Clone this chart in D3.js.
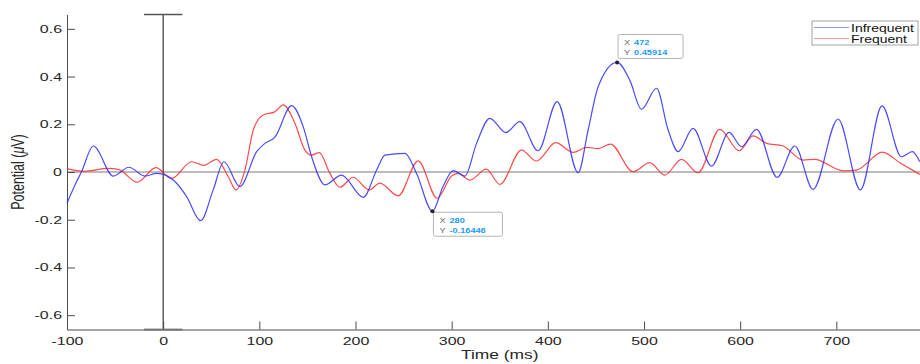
<!DOCTYPE html>
<html>
<head>
<meta charset="utf-8">
<script src="https://cdn.jsdelivr.net/npm/d3@7"></script>
<style>
  body { margin: 0; background: #fff; }
  text { font-family: "Liberation Sans", Arial, sans-serif; }
</style>
</head>
<body>
<div id="my_chart"></div>
<script>
// ERP waveforms (time in ms, potential in uV)
const infreqTime = [-100, -90, -85, -72.6, -51.9, -35.6, -19, -6.8, 0, 14, 24.4, 39, 52, 63.2, 79.8, 97.2, 105.8, 116,
    133.6, 145.6, 154.4, 168.2, 185.5, 208, 222, 230.6, 251.4, 263.5, 280, 291, 301.6, 313.7, 325.9, 339.7, 356.3,
    370.9, 389.9, 409.7, 431.5, 441.9, 452.3, 472, 485.2, 497.4, 513, 525.1, 535.5, 551, 570.2, 588.5, 601.4, 617,
    638.4, 656.8, 675.8, 701.8, 725, 747.5, 767.7, 779, 786.7];
const infreqVal = [-0.131, -0.04, 0.0, 0.109, -0.017, 0.02, -0.017, -0.006, -0.01, -0.047, -0.103, -0.204, -0.075, 0.043,
    -0.061, 0.085, 0.12, 0.145, 0.278, 0.19, 0.064, -0.054, -0.013, -0.106, 0.008, 0.071, 0.078, -0.006, -0.164,
    -0.061, 0.006, -0.017, 0.12, 0.225, 0.165, 0.211, 0.089, 0.295, -0.003, 0.176, 0.357, 0.459, 0.385, 0.263,
    0.351, 0.176, 0.085, 0.183, 0.025, 0.166, 0.106, 0.179, -0.022, 0.109, -0.073, 0.222, -0.075, 0.277, 0.064,
    0.085, 0.043];

const freqTime = [-100, -82, -57, -46, -27, -7.5, 8.8, 29.6, 42.4, 55.6, 67.7, 75.7, 85, 93.7, 104, 116, 124.9, 137,
    147.4, 154.4, 162.3, 173.4, 183.8, 197.6, 214.3, 225.4, 244.4, 265.2, 284.9, 299.9, 306.8, 319, 336, 350.1,
    372.6, 388.2, 408.3, 426.3, 440.2, 452.3, 465.2, 488.7, 506, 521.6, 539, 556.2, 578.8, 598.9, 613.4, 627.3,
    644.6, 665.4, 677.5, 707, 720.9, 747.9, 766, 786.7];
const freqVal = [0.014, 0.003, 0.015, 0.01, -0.043, 0.018, -0.027, 0.043, 0.028, 0.053, -0.02, -0.075, 0.008, 0.176,
    0.239, 0.252, 0.281, 0.204, 0.092, 0.071, 0.081, -0.006, -0.064, -0.022, -0.075, -0.047, -0.1, 0.047, -0.11,
    -0.017, -0.006, -0.034, 0.012, -0.052, 0.092, 0.046, 0.123, 0.082, 0.103, 0.098, 0.117, 0.001, 0.039, -0.013,
    0.053, -0.003, 0.179, 0.089, 0.151, 0.12, 0.109, 0.05, 0.053, 0.005, 0.008, 0.083, 0.039, -0.01];

const xTicks = [-100, 0, 100, 200, 300, 400, 500, 600, 700];
const yTicks = [-0.6, -0.4, -0.2, 0, 0.2, 0.4, 0.6];
const seriesNames = ["Infrequent", "Frequent"];
const seriesColors = ["#2b2bff", "#ff2b2b"];
// data tips: [time, value]
const tips = [[472, 0.45914], [280, -0.16446]];

const W = 920, H = 364;
const stretch = 1.45; // the figure is horizontally stretched

const svg = d3.select("#my_chart").append("svg")
    .attr("width", W)
    .attr("height", H);

const x = d3.scaleLinear().domain([-100, 787]).range([67, 920]);
const y = d3.scaleLinear().domain([-0.66, 0.66]).range([329.5, 14.5]);

// zero line
svg.append("line")
    .attr("x1", x(-100)).attr("x2", W)
    .attr("y1", y(0)).attr("y2", y(0))
    .attr("stroke", "#a6a6a6").attr("stroke-width", 1.6);

// stimulus onset marker (vertical bar with caps)
svg.append("line")
    .attr("x1", x(0)).attr("x2", x(0))
    .attr("y1", y(0.66)).attr("y2", y(-0.66))
    .attr("stroke", "#111").attr("stroke-width", 1);
svg.append("line")
    .attr("x1", x(-20)).attr("x2", x(20))
    .attr("y1", y(0.66)).attr("y2", y(0.66))
    .attr("stroke", "#555").attr("stroke-width", 1.3);
svg.append("line")
    .attr("x1", x(-20)).attr("x2", x(20))
    .attr("y1", y(-0.66)).attr("y2", y(-0.66))
    .attr("stroke", "#999").attr("stroke-width", 2.2);

const fmt = d => d === 0 ? "0" : d.toFixed(1);

// y axis, ticks point inward
const gy = svg.append("g")
    .attr("transform", `translate(${x(-100)},0)`)
    .call(d3.axisLeft(y).tickValues(yTicks).tickFormat(fmt).tickSizeInner(-8).tickSizeOuter(0).tickPadding(5));
gy.select(".domain").attr("stroke", "#4d4d4d");
gy.selectAll(".tick line").attr("stroke", "#4d4d4d");
gy.selectAll(".tick text")
    .attr("fill", "#262626")
    .style("font-size", "11px")
    .attr("transform", function () {
        const tx = +d3.select(this).attr("x");
        d3.select(this).attr("x", 0);
        return `translate(${tx},0) scale(${stretch},1)`;
    });

// x axis, ticks point inward
const gx = svg.append("g")
    .attr("transform", `translate(0,${y(-0.66)})`)
    .call(d3.axisBottom(x).tickValues(xTicks).tickFormat(d3.format("d")).tickSizeInner(-8).tickSizeOuter(0).tickPadding(5));
gx.select(".domain").attr("stroke", "#4d4d4d");
gx.selectAll(".tick line").attr("stroke", "#4d4d4d");
gx.selectAll(".tick text")
    .attr("fill", "#262626")
    .style("font-size", "11px")
    .text(d => String(d).replace("\u2212", "-"))
    .attr("y", 0)
    .attr("dy", "0")
    .attr("transform", `translate(0,15) scale(${stretch},1)`);

// axis labels
svg.append("text")
    .attr("transform", `translate(${x(350)},359) scale(${stretch},1)`)
    .attr("text-anchor", "middle")
    .attr("fill", "#262626")
    .style("font-size", "12px")
    .text("Time (ms)");

const yl = svg.append("text")
    .attr("transform", `translate(24,${y(0)}) rotate(-90) scale(1,${stretch})`)
    .attr("text-anchor", "middle")
    .attr("fill", "#262626")
    .style("font-size", "12.5px");
yl.append("tspan").text("Potential (");
yl.append("tspan").style("font-style", "italic").text("\u03bc");
yl.append("tspan").text("V)");

// waveforms
const line = d3.line()
    .x(d => x(d[0]))
    .y(d => y(d[1]))
    .curve(d3.curveMonotoneX);

const series = [
    d3.zip(infreqTime, infreqVal),
    d3.zip(freqTime, freqVal)
];

[1, 0].forEach(i => {
    svg.append("path")
        .datum(series[i])
        .attr("fill", "none")
        .attr("stroke", seriesColors[i])
        .attr("stroke-opacity", 0.85)
        .attr("stroke-width", 1.2)
        .attr("d", line);
});

// legend
const lg = svg.append("g").attr("transform", "translate(812,21)");
lg.append("rect")
    .attr("width", 106).attr("height", 24)
    .attr("fill", "#fff").attr("stroke", "#8c8c8c").attr("stroke-width", 0.8);
seriesNames.forEach((name, i) => {
    const yy = 6.5 + i * 11;
    lg.append("line")
        .attr("x1", 2).attr("x2", 37)
        .attr("y1", yy).attr("y2", yy)
        .attr("stroke", seriesColors[i]).attr("stroke-opacity", 0.5).attr("stroke-width", 1.1);
    lg.append("text")
        .attr("transform", `translate(39,${yy + 4}) scale(1.4,1)`)
        .attr("fill", "#111")
        .style("font-size", "10px")
        .text(name);
});

// data tips
const tipBoxes = [
    { dx: 1, dy: -28, w: 65, h: 24 },
    { dx: 1, dy: 1, w: 69, h: 24 }
];
tips.forEach((t, i) => {
    const px = x(t[0]), py = y(t[1]);
    const b = tipBoxes[i];
    const g = svg.append("g").attr("transform", `translate(${px + b.dx},${py + b.dy})`);
    g.append("rect")
        .attr("width", b.w).attr("height", b.h)
        .attr("rx", 2)
        .attr("fill", "#fff").attr("fill-opacity", 0.9)
        .attr("stroke", "#b3b3b3").attr("stroke-width", 1);
    [["X", String(t[0])], ["Y", String(t[1])]].forEach((row, j) => {
        g.append("text")
            .attr("transform", `translate(6,${10.5 + j * 10}) scale(1.15,1)`)
            .attr("fill", "#666")
            .style("font-size", "8px")
            .text(row[0]);
        g.append("text")
            .attr("transform", `translate(${16},${10.5 + j * 10}) scale(1.15,1)`)
            .attr("fill", "#1a9bff")
            .style("font-size", "8px")
            .style("font-weight", "bold")
            .text(row[1]);
    });
    svg.append("circle")
        .attr("cx", px).attr("cy", py).attr("r", 2)
        .attr("fill", "#222");
});
</script>
</body>
</html>
